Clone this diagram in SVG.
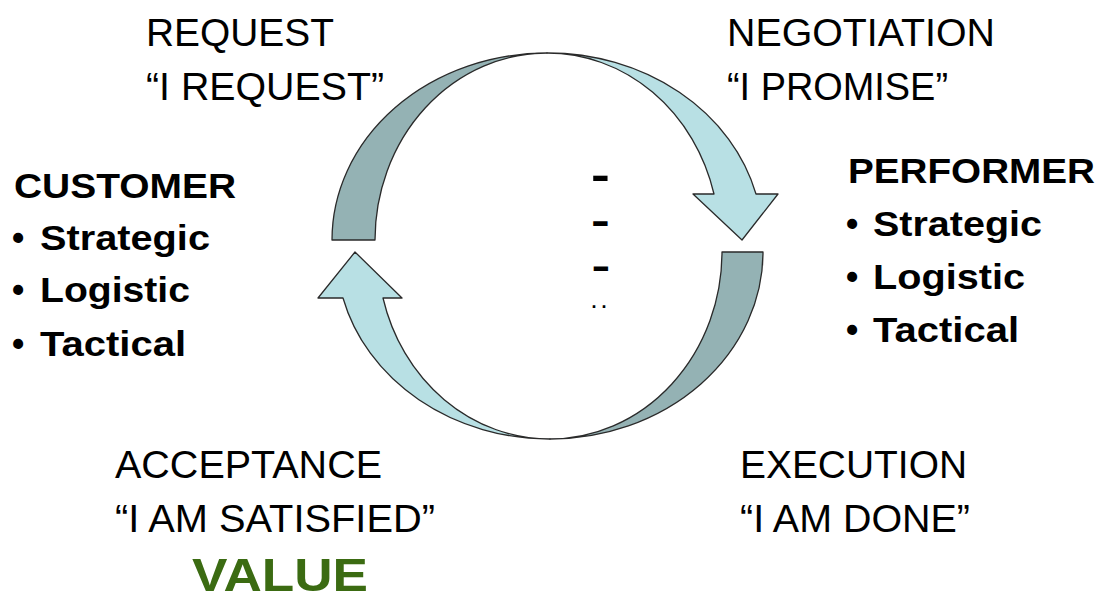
<svg xmlns="http://www.w3.org/2000/svg" width="1100" height="602" viewBox="0 0 1100 602">
<style>
.reg{font-family:"Liberation Sans",Arial,sans-serif;font-size:39px;fill:#000}
.bold{font-family:"Liberation Sans",Arial,sans-serif;font-size:35px;font-weight:bold;fill:#000}
.val{font-family:"Liberation Sans",Arial,sans-serif;font-size:47px;font-weight:bold;fill:#3b6b12}
.dash{font-family:"Liberation Sans",Arial,sans-serif;font-weight:bold;fill:#000}
.dark{fill:#94b2b4;stroke:#2a2a2a;stroke-width:1.3;stroke-linejoin:round}
.light{fill:#b8e0e4;stroke:#2a2a2a;stroke-width:1.3;stroke-linejoin:round}
</style>
<rect width="1100" height="602" fill="#fff"/>
<g id="connectors">
<g id="arrow-top">
<path class="dark" d="M332,240 A215,187 0 0 1 547,53 A172,187 0 0 0 375,240 Z"/>
<path class="light" d="M547,53 A215,187 0 0 1 756,194 L778,194 L742,240 L693,194 L714,194 A172,187 0 0 0 547,53 Z"/>
</g>
<g id="arrow-bottom">
<path class="dark" d="M722,252 L763,252 A213,187 0 0 1 550,439 A172,187 0 0 0 722,252 Z"/>
<path class="light" d="M550,439 A213,187 0 0 1 343,298 L318,298 L355,252 L402,298 L383,298 A172,187 0 0 0 550,439 Z"/>
</g>
</g>
<g id="center-marks">
<text class="dash" x="591" y="190" font-size="44" textLength="18.8" lengthAdjust="spacingAndGlyphs">-</text>
<text class="dash" x="591" y="233.5" font-size="40" textLength="18.8" lengthAdjust="spacingAndGlyphs">-</text>
<text class="dash" x="591.5" y="278" font-size="36" textLength="18.8" lengthAdjust="spacingAndGlyphs">-</text>
<text class="dash" x="591.4" y="308" font-size="18" letter-spacing="5">..</text>
</g>
<g id="request">
<text class="reg" x="146" y="46" textLength="188" lengthAdjust="spacingAndGlyphs">REQUEST</text>
<text class="reg" x="146" y="100" textLength="238" lengthAdjust="spacingAndGlyphs">“I REQUEST”</text>
</g>
<g id="negotiation">
<text class="reg" x="727" y="46" textLength="268" lengthAdjust="spacingAndGlyphs">NEGOTIATION</text>
<text class="reg" x="727" y="100" textLength="221" lengthAdjust="spacingAndGlyphs">“I PROMISE”</text>
</g>
<g id="customer">
<text class="bold" x="14" y="198" textLength="222" lengthAdjust="spacingAndGlyphs">CUSTOMER</text>
<text class="bold" x="12" y="250">•</text><text class="bold" x="40" y="250" textLength="170" lengthAdjust="spacingAndGlyphs">Strategic</text>
<text class="bold" x="12" y="302">•</text><text class="bold" x="40" y="302" textLength="150" lengthAdjust="spacingAndGlyphs">Logistic</text>
<text class="bold" x="12" y="356">•</text><text class="bold" x="40" y="356" textLength="146" lengthAdjust="spacingAndGlyphs">Tactical</text>
</g>
<g id="performer">
<text class="bold" x="848" y="183" textLength="247" lengthAdjust="spacingAndGlyphs">PERFORMER</text>
<text class="bold" x="846" y="236">•</text><text class="bold" x="873" y="236" textLength="169" lengthAdjust="spacingAndGlyphs">Strategic</text>
<text class="bold" x="846" y="289">•</text><text class="bold" x="873" y="289" textLength="152" lengthAdjust="spacingAndGlyphs">Logistic</text>
<text class="bold" x="846" y="342">•</text><text class="bold" x="873" y="342" textLength="146" lengthAdjust="spacingAndGlyphs">Tactical</text>
</g>
<g id="acceptance">
<text class="reg" x="115" y="478" textLength="267" lengthAdjust="spacingAndGlyphs">ACCEPTANCE</text>
<text class="reg" x="115" y="532" textLength="320" lengthAdjust="spacingAndGlyphs">“I AM SATISFIED”</text>
<text class="val" x="192" y="591" textLength="176" lengthAdjust="spacingAndGlyphs">VALUE</text>
</g>
<g id="execution">
<text class="reg" x="740" y="478" textLength="227" lengthAdjust="spacingAndGlyphs">EXECUTION</text>
<text class="reg" x="740" y="532" textLength="230" lengthAdjust="spacingAndGlyphs">“I AM DONE”</text>
</g>
</svg>
